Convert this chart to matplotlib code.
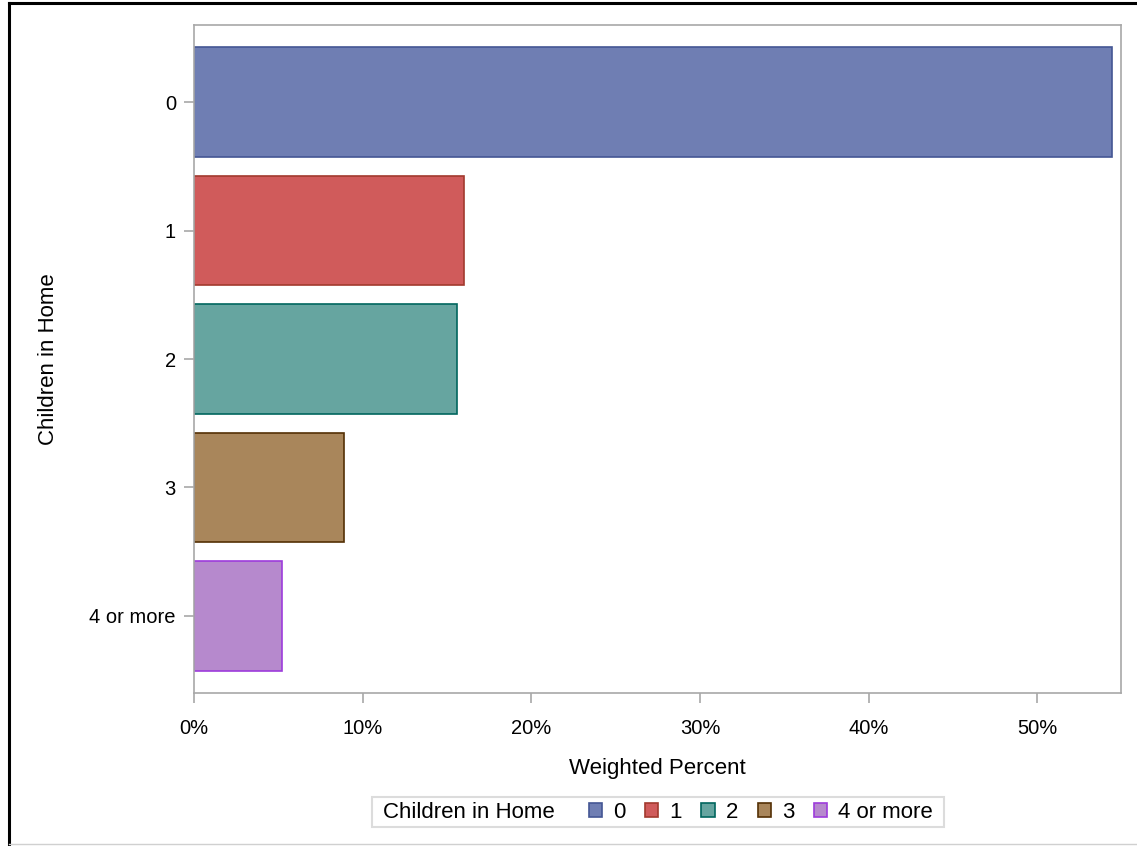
import matplotlib
matplotlib.use("Agg")
import matplotlib.pyplot as plt
from matplotlib.patches import Patch
from matplotlib.lines import Line2D
from matplotlib.ticker import FuncFormatter
from matplotlib.offsetbox import HPacker, DrawingArea

plt.rcParams['font.family'] = ['Liberation Sans', 'DejaVu Sans']

categories = ["0", "1", "2", "3", "4 or more"]
percent = [54.4, 16.0, 15.6, 8.9, 5.2]
fill_colors = ["#6F7EB3", "#D05B5B", "#66A5A0", "#A9865B", "#B689CD"]
edge_colors = ["#445694", "#A23A2E", "#01665E", "#543005", "#9D3CDB"]
x_ticks = [0, 10, 20, 30, 40, 50]

W, H = 1137, 846
fig = plt.figure(figsize=(W / 100, H / 100), dpi=100)
ax = fig.add_axes([194 / W, 1 - 693 / H, (1121 - 194) / W, (693 - 25) / H])

ypos = list(range(len(categories)))
ax.barh(ypos, percent, height=0.85, color=fill_colors, edgecolor=edge_colors,
        linewidth=1.2, zorder=2)

ax.set_ylim(4.6, -0.6)
ax.set_xlim(0, 54.95)
ax.set_yticks(ypos)
ax.set_yticklabels(categories)
ax.set_xticks(x_ticks)
ax.xaxis.set_major_formatter(FuncFormatter(lambda v, p: f"{v:.0f}%"))

gray = "#A8A8A8"
for s in ax.spines.values():
    s.set_color(gray)
    s.set_linewidth(1.2)
ax.tick_params(axis='both', colors=gray, labelcolor='black', labelsize=14.5,
               length=7, width=1.2)
ax.tick_params(axis='x', pad=12)
ax.tick_params(axis='y', pad=6)

ax.set_xlabel("Weighted Percent", fontsize=16, labelpad=14)
ax.set_ylabel("Children in Home", fontsize=16, labelpad=22)

handles = [Patch(facecolor=f, edgecolor=e, linewidth=1.2)
           for f, e in zip(fill_colors, edge_colors)]
leg = fig.legend(handles, categories, loc='center',
                 bbox_to_anchor=(658 / W, 1 - 812 / H), ncol=5,
                 fontsize=16, title="Children in Home", title_fontsize=16,
                 frameon=True, fancybox=False, handlelength=0.6,
                 handleheight=0.6, handletextpad=0.5, columnspacing=0.9,
                 borderpad=0.2, edgecolor="#D4D4D4")
leg.get_frame().set_linewidth(1.5)
c = leg.get_children()[0]
title_box = c.get_children()[0]
hpack = c.get_children()[1]
spacer = DrawingArea(10.5, 1, 0, 0)
title_group = HPacker(children=[title_box, spacer], sep=0, pad=0,
                      align='baseline')
hpack._children = [title_group] + hpack.get_children()
hpack.sep = 14
outer = HPacker(children=[DrawingArea(5, 1, 0, 0), hpack,
                          DrawingArea(5, 1, 0, 0)],
                sep=0, pad=0, align='baseline')
c._children = [outer]

# outer border (top and left black, bottom light gray)
fig.add_artist(Line2D([9 / W, 1], [1 - 3 / H, 1 - 3 / H], color='black',
                      linewidth=2.2, transform=fig.transFigure))
fig.add_artist(Line2D([9 / W, 9 / W], [1 - 3 / H, 0], color='black',
                      linewidth=2.2, transform=fig.transFigure))
fig.add_artist(Line2D([9 / W, 1], [1 - 844 / H, 1 - 844 / H], color='#D0D0D0',
                      linewidth=1.0, transform=fig.transFigure))

fig.savefig("out.png", dpi=100)
